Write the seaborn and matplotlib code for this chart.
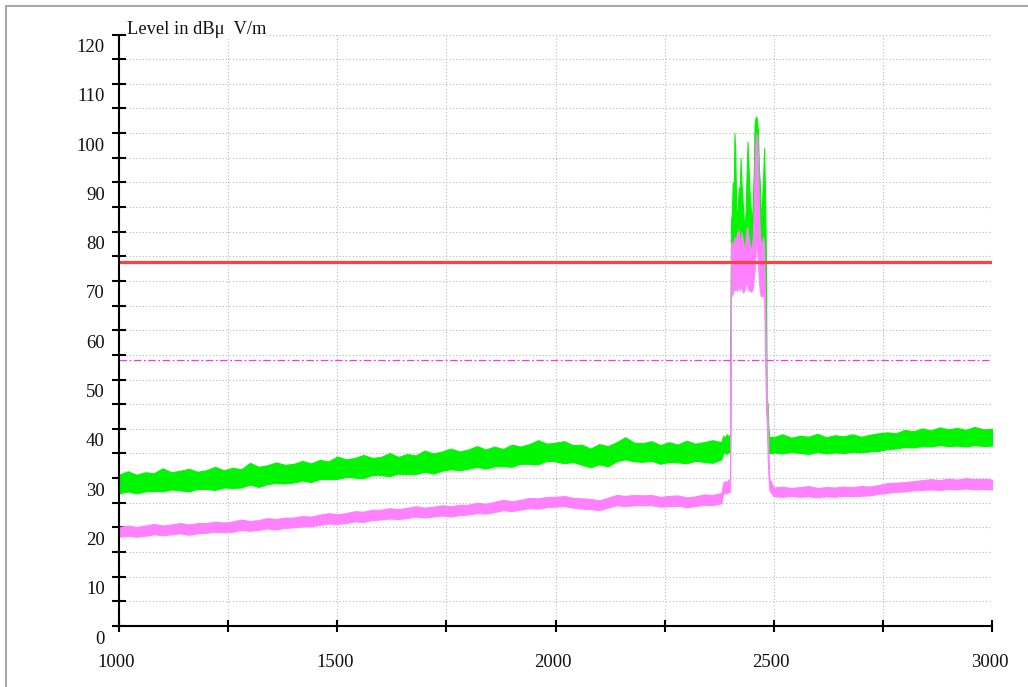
import numpy as np
import pandas as pd
import seaborn as sns
import matplotlib.pyplot as plt
from matplotlib.lines import Line2D
from matplotlib.transforms import ScaledTranslation

# frequency grid in MHz (coarse outside the 2.4 GHz band, fine inside)
freq = [
    1000, 1020, 1040, 1060, 1080, 1100, 1120, 1140, 1160, 1180,
    1200, 1220, 1240, 1260, 1280, 1300, 1320, 1340, 1360, 1380,
    1400, 1420, 1440, 1460, 1480, 1500, 1520, 1540, 1560, 1580,
    1600, 1620, 1640, 1660, 1680, 1700, 1720, 1740, 1760, 1780,
    1800, 1820, 1840, 1860, 1880, 1900, 1920, 1940, 1960, 1980,
    2000, 2020, 2040, 2060, 2080, 2100, 2120, 2140, 2160, 2180,
    2200, 2220, 2240, 2260, 2280, 2300, 2320, 2340, 2360, 2380,
    2384, 2388, 2392, 2396, 2400,
    2402, 2404, 2406, 2408, 2410, 2412, 2414, 2416, 2418, 2420,
    2422, 2424, 2426, 2428, 2430, 2432, 2434, 2436, 2438, 2440,
    2442, 2444, 2446, 2448, 2450, 2452, 2454, 2456, 2458, 2460,
    2462, 2464, 2466, 2468, 2470, 2472, 2474, 2476, 2478, 2480,
    2482, 2484, 2486, 2488, 2490,
    2500, 2520, 2540, 2560, 2580, 2600, 2620, 2640, 2660, 2680,
    2700, 2720, 2740, 2760, 2780, 2800, 2820, 2840, 2860, 2880,
    2900, 2920, 2940, 2960, 2980, 3000,
]

# peak trace (green), lower / upper edge of the noise band, dBuV/m
peak_lo = [
    26.9, 27.3, 26.9, 27.3, 27.4, 27.3, 27.7, 27.5, 27.3, 27.8,
    27.8, 27.6, 28.1, 28.0, 28.1, 28.7, 28.2, 28.8, 29.0, 28.9,
    29.1, 29.5, 29.2, 29.8, 29.8, 29.8, 30.3, 30.1, 30.0, 30.6,
    30.6, 30.4, 30.9, 30.8, 30.8, 31.3, 30.9, 31.5, 31.8, 31.6,
    31.9, 32.3, 31.9, 32.4, 32.4, 32.3, 32.9, 32.9, 32.8, 33.5,
    33.4, 33.0, 33.3, 32.7, 32.2, 32.8, 32.4, 33.4, 33.8, 33.4,
    33.3, 33.5, 32.9, 33.3, 33.2, 33.0, 33.5, 33.3, 33.1, 33.8,
    35.0, 35.2, 34.9, 35.3, 35.1,
    76, 75.5, 76, 77, 76, 77, 76, 77.5, 76, 78,
    76.5, 77, 78, 76, 77, 76, 77, 76.5, 78, 77,
    76, 77, 78, 76, 75.5, 76, 77, 78, 80, 82,
    80, 78, 77, 76, 75.5, 75.7, 76, 77, 76, 75,
    45, 42, 38, 35.5, 35,
    35.2, 35.0, 35.3, 35.1, 34.9, 35.3, 35.0, 35.2, 35.1, 35.3,
    35.2, 35.4, 35.5, 35.9, 36.0, 36.3, 36.2, 36.5, 36.4, 36.7,
    36.5, 36.6, 36.4, 36.7, 36.5, 36.6,
]
peak_hi = [
    30.7, 31.4, 30.7, 31.2, 31.0, 32.0, 31.2, 31.5, 31.9, 31.3,
    31.6, 32.3, 31.6, 32.1, 31.8, 33.1, 32.3, 32.6, 33.2, 32.7,
    32.9, 33.5, 33.0, 33.7, 33.4, 34.4, 33.8, 34.1, 34.7, 34.1,
    34.3, 35.1, 34.3, 34.9, 34.6, 35.6, 35.0, 35.4, 36.0, 35.4,
    35.8, 36.5, 35.8, 36.4, 35.9, 36.8, 36.4, 36.9, 37.7, 37.0,
    37.2, 37.5, 36.7, 36.8, 36.0, 36.9, 36.5, 37.3, 38.3, 37.2,
    37.1, 37.5, 36.7, 37.3, 36.8, 37.6, 37.0, 37.3, 37.7, 37.3,
    38.6, 38.2, 38.9, 38.4, 39.0,
    82, 84, 90, 86, 100, 96, 84.5, 83, 86, 89,
    88, 95, 90, 87.5, 84, 82, 81, 86, 92.6, 98.3,
    94, 89, 86, 84, 82, 86, 92, 102, 103, 103.4,
    102.5, 100, 93, 90, 85, 83, 88, 92, 97, 88,
    76, 46, 45, 40, 38.4,
    38.3, 38.9, 38.2, 38.6, 38.4, 39.0, 38.3, 38.7, 38.5, 38.9,
    38.4, 38.8, 39.1, 39.3, 39.1, 39.8, 39.5, 40.1, 39.7, 40.3,
    39.9, 40.2, 39.8, 40.4, 39.9, 40.0,
]

# average trace (violet)
avg_lo = [
    18.1, 18.3, 18.1, 18.3, 18.6, 18.4, 18.6, 18.8, 18.5, 18.8,
    18.9, 19.1, 19.0, 19.1, 19.5, 19.3, 19.5, 19.8, 19.6, 19.9,
    20.0, 20.2, 20.2, 20.5, 20.8, 20.7, 20.9, 21.2, 21.1, 21.5,
    21.6, 21.8, 21.7, 21.9, 22.2, 22.0, 22.2, 22.4, 22.2, 22.5,
    22.6, 22.9, 22.8, 23.1, 23.5, 23.3, 23.6, 23.9, 23.8, 24.1,
    24.2, 24.3, 24.0, 23.8, 23.7, 23.5, 24.0, 24.5, 24.3, 24.5,
    24.5, 24.5, 24.2, 24.3, 24.4, 24.1, 24.3, 24.6, 24.5, 24.9,
    26.8, 27.0, 26.9, 27.1, 27.2,
    66.8, 67, 67.5, 68, 68.5, 68, 69, 68, 68.5, 68.8,
    68, 68.5, 69, 68, 67.6, 68, 68.5, 69.5, 69.6, 69,
    68, 68.5, 68, 67.8, 68, 68.5, 70, 72, 75, 78,
    76, 73, 70, 68, 67, 66.8, 67, 67, 66.8, 55,
    48, 42, 34, 30, 27.5,
    26.3, 26.2, 26.4, 26.2, 26.3, 26.1, 26.3, 26.2, 26.4, 26.3,
    26.4, 26.5, 26.8, 27.0, 27.2, 27.3, 27.5, 27.6, 27.7, 27.6,
    27.8, 27.7, 27.9, 27.7, 27.8, 27.7,
]
avg_hi = [
    20.1, 20.4, 20.1, 20.4, 20.7, 20.4, 20.6, 20.9, 20.6, 20.9,
    20.9, 21.2, 21.0, 21.2, 21.6, 21.3, 21.5, 21.9, 21.7, 22.0,
    22.0, 22.3, 22.2, 22.6, 22.9, 22.7, 22.9, 23.3, 23.2, 23.6,
    23.6, 23.9, 23.7, 24.0, 24.3, 24.0, 24.2, 24.5, 24.3, 24.6,
    24.6, 25.0, 24.8, 25.2, 25.6, 25.3, 25.6, 26.0, 25.9, 26.2,
    26.2, 26.4, 26.0, 25.9, 25.8, 25.5, 26.0, 26.6, 26.4, 26.6,
    26.5, 26.6, 26.2, 26.4, 26.5, 26.1, 26.3, 26.7, 26.6, 27.0,
    29.0, 29.4, 29.2, 29.6, 30.0,
    77, 78, 76.5, 78, 79, 77, 78.5, 80, 79, 80.5,
    78, 77.5, 80, 79, 78, 77, 76.5, 79, 80.7, 81,
    79, 78, 77, 76.5, 77, 79, 85, 92, 98, 100,
    99, 94, 86, 80, 78, 77, 78, 79, 77, 67,
    56, 48, 43, 35, 30,
    28.1, 28.3, 28.0, 28.2, 28.4, 28.0, 28.2, 28.1, 28.3, 28.2,
    28.4, 28.3, 28.6, 29.0, 29.1, 29.2, 29.4, 29.6, 29.8, 29.6,
    29.9, 29.7, 30.0, 29.8, 29.9, 29.7,
]

# limit lines
limit_freq = [1000, 3000]
peak_limit = [73.8, 73.8]
avg_limit = [54, 54]

y_ticks = list(range(0, 125, 5))
y_labels = [str(v) if v % 10 == 0 else "" for v in y_ticks]
x_ticks = list(range(1000, 3001, 250))
x_labels = [str(v) if v % 500 == 0 else "" for v in x_ticks]

df = pd.DataFrame({"freq": freq, "peak_lo": peak_lo, "peak_hi": peak_hi,
                   "avg_lo": avg_lo, "avg_hi": avg_hi})

sns.set_theme(style="white")
plt.rcParams["font.family"] = ["Liberation Serif", "DejaVu Serif"]

fig = plt.figure(figsize=(10.28, 6.87), dpi=100)
ax = fig.add_axes([119 / 1028, 1 - 626 / 687, 873 / 1028, 591.5 / 687])

green = "#00f500"
violet = "#ff80ff"

ax.fill_between(df["freq"], df["peak_lo"], df["peak_hi"], color=green,
                edgecolor=green, linewidth=0.7, zorder=3)
ax.fill_between(df["freq"], df["avg_lo"], df["avg_hi"], color=violet,
                edgecolor=violet, linewidth=0.7, zorder=4)

sns.lineplot(x=limit_freq, y=peak_limit, ax=ax, color="#ff4040",
             linewidth=2.3, zorder=5)
sns.lineplot(x=limit_freq, y=avg_limit, ax=ax, color="#ff30ff",
             linewidth=0.9, linestyle=(0, (6, 2, 1.5, 2)), zorder=5)

ax.set_xlim(1000, 3000)
ax.set_ylim(0, 120)
ax.set_xticks(x_ticks)
ax.set_xticklabels(x_labels)
ax.set_yticks(y_ticks)
ax.set_yticklabels(y_labels)
ax.set_xlabel("")
ax.set_ylabel("")

ax.grid(True, color="#b8b8b8", linestyle=(0, (1, 2)), linewidth=0.8)
ax.set_axisbelow(True)

for side in ["top", "right"]:
    ax.spines[side].set_visible(False)
for side in ["left", "bottom"]:
    ax.spines[side].set_color("black")
    ax.spines[side].set_linewidth(1.5)
    ax.spines[side].set_zorder(6)

ax.tick_params(axis="y", direction="inout", length=10.5, width=1.5,
               color="black", pad=5, labelsize=13.5, labelcolor="#111111",
               left=True)
ax.tick_params(axis="x", direction="inout", length=8.5, width=1.5,
               color="black", pad=16, labelsize=13.5, labelcolor="#111111",
               bottom=True)

# tick labels of the original sit a little below / left of their ticks
y_shift = ScaledTranslation(0, -11 / 100, fig.dpi_scale_trans)
for lab in ax.get_yticklabels():
    lab.set_transform(lab.get_transform() + y_shift)
x_shift = ScaledTranslation(-2.5 / 100, 0, fig.dpi_scale_trans)
for lab in ax.get_xticklabels():
    lab.set_transform(lab.get_transform() + x_shift)

ax.text(0.009, 1.0, "Level in dBμ  V/m", transform=ax.transAxes,
        ha="left", va="baseline", fontsize=13.3, color="#111111",
        bbox=dict(facecolor="white", edgecolor="none", pad=0), zorder=7)

# light gray page frame
fig.add_artist(Line2D([6 / 1028, 6 / 1028], [0, 1 - 6 / 687],
                      transform=fig.transFigure, color="#a8a8a8", lw=1.5))
fig.add_artist(Line2D([6 / 1028, 1], [1 - 6 / 687, 1 - 6 / 687],
                      transform=fig.transFigure, color="#a8a8a8", lw=1.5))

plt.savefig("out.png", dpi=100)
